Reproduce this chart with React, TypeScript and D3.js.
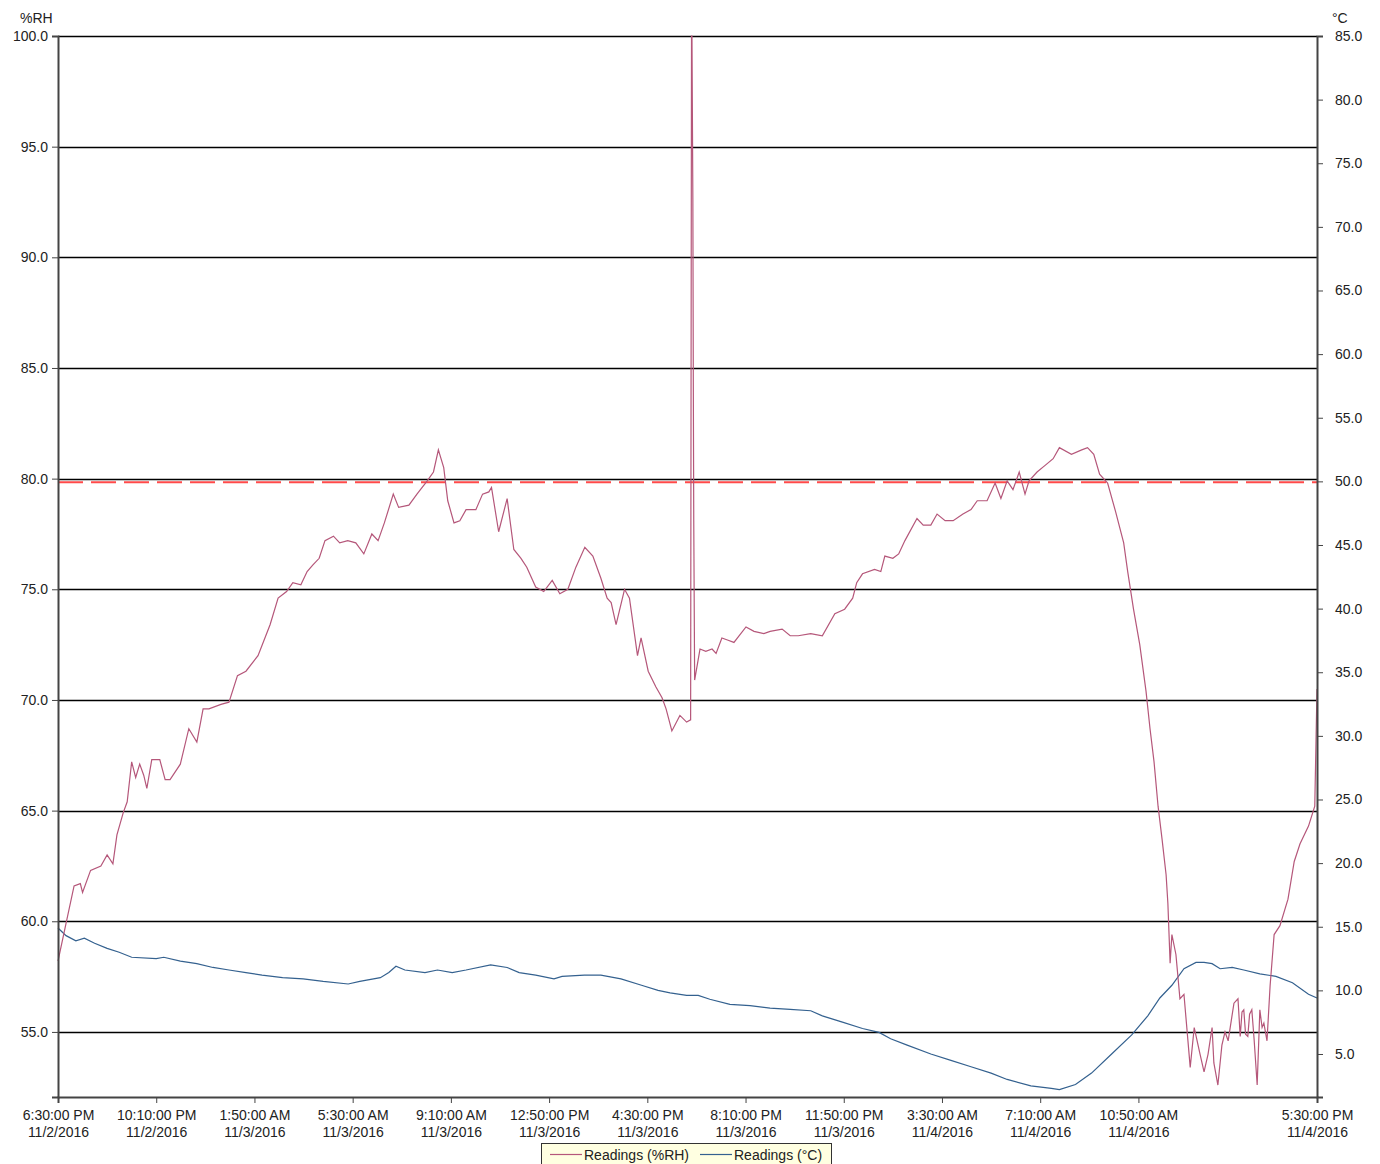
import React, { useEffect, useRef } from 'react';
import * as d3 from 'd3';

// minutes after 6:30 PM 11/2/2016, reading
const rhReadings: [number, number][] = [
  [0, 58.2], [18, 59.9], [36, 61.6], [50, 61.7], [55, 61.3], [73, 62.3], [96, 62.5], [110, 63.0],
  [123, 62.6], [132, 63.9], [146, 64.9], [155, 65.4], [165, 67.2], [174, 66.5], [183, 67.1], [192, 66.6],
  [199, 66.0], [210, 67.3], [228, 67.3], [240, 66.4], [251, 66.4], [274, 67.1], [293, 68.7], [311, 68.1],
  [325, 69.6], [338, 69.6], [365, 69.8], [383, 69.9], [402, 71.1], [421, 71.3], [448, 72.0], [475, 73.4],
  [493, 74.6], [512, 74.9], [526, 75.3], [544, 75.2], [558, 75.8], [571, 76.1], [585, 76.4], [598, 77.2],
  [617, 77.4], [631, 77.1], [649, 77.2], [667, 77.1], [685, 76.6], [703, 77.5], [717, 77.2], [731, 78.0],
  [751, 79.3], [763, 78.7], [786, 78.8], [804, 79.3], [827, 79.9], [841, 80.3], [852, 81.3], [864, 80.5],
  [873, 79.0], [887, 78.0], [900, 78.1], [914, 78.6], [936, 78.6], [951, 79.3], [965, 79.4], [971, 79.6],
  [987, 77.6], [1006, 79.1], [1021, 76.8], [1037, 76.4], [1050, 76.0], [1070, 75.1], [1088, 74.9], [1107, 75.4],
  [1124, 74.8], [1142, 75.0], [1160, 76.0], [1180, 76.9], [1198, 76.5], [1216, 75.5], [1230, 74.6], [1239, 74.4],
  [1250, 73.4], [1269, 75.0], [1280, 74.6], [1298, 72.0], [1306, 72.8], [1322, 71.3], [1339, 70.6], [1353, 70.1],
  [1362, 69.6], [1375, 68.6], [1393, 69.3], [1408, 69.0], [1417, 69.1], [1419, 100.0], [1420, 100.0], [1422, 92.6],
  [1423, 84.5], [1424, 78.1], [1426, 70.9], [1438, 72.3], [1451, 72.2], [1465, 72.3], [1474, 72.1], [1487, 72.8],
  [1501, 72.7], [1514, 72.6], [1541, 73.3], [1559, 73.1], [1581, 73.0], [1595, 73.1], [1622, 73.2], [1640, 72.9],
  [1658, 72.9], [1686, 73.0], [1712, 72.9], [1740, 73.9], [1762, 74.1], [1780, 74.6], [1789, 75.3], [1802, 75.7],
  [1829, 75.9], [1843, 75.8], [1852, 76.5], [1870, 76.4], [1883, 76.6], [1897, 77.2], [1924, 78.2], [1938, 77.9],
  [1955, 77.9], [1969, 78.4], [1987, 78.1], [2005, 78.1], [2027, 78.4], [2045, 78.6], [2059, 79.0], [2081, 79.0],
  [2099, 79.8], [2112, 79.1], [2126, 79.9], [2139, 79.5], [2153, 80.3], [2166, 79.3], [2175, 79.9], [2193, 80.3],
  [2211, 80.6], [2229, 80.9], [2243, 81.4], [2270, 81.1], [2293, 81.3], [2306, 81.4], [2320, 81.1], [2333, 80.2],
  [2351, 79.8], [2369, 78.5], [2387, 77.1], [2396, 75.8], [2409, 74.1], [2423, 72.5], [2437, 70.4], [2446, 68.7],
  [2455, 67.2], [2464, 65.2], [2473, 63.7], [2482, 62.1], [2486, 60.8], [2491, 58.1], [2495, 59.4], [2504, 58.5],
  [2513, 56.5], [2522, 56.7], [2536, 53.4], [2545, 55.2], [2558, 54.0], [2567, 53.2], [2576, 54.0], [2585, 55.2],
  [2589, 53.6], [2598, 52.6], [2607, 54.4], [2614, 55.0], [2621, 54.6], [2634, 56.3], [2643, 56.5], [2648, 54.8],
  [2652, 55.9], [2656, 56.0], [2660, 54.9], [2665, 54.8], [2669, 55.8], [2674, 56.0], [2679, 54.7], [2686, 52.6],
  [2692, 56.0], [2697, 55.2], [2701, 55.4], [2708, 54.6], [2715, 57.1], [2724, 59.4], [2737, 59.8],
  [2755, 61.0], [2769, 62.7], [2782, 63.5], [2801, 64.3], [2815, 65.2], [2820, 70.5],
];

const tempReadings: [number, number][] = [
  [0, 14.9], [18, 14.3], [40, 13.9], [59, 14.1], [82, 13.7], [110, 13.3], [137, 13.0], [165, 12.6],
  [220, 12.5], [237, 12.6], [274, 12.3], [311, 12.1], [347, 11.8], [383, 11.6], [421, 11.4], [457, 11.2],
  [503, 11.0], [549, 10.9], [594, 10.7], [650, 10.5], [676, 10.7], [722, 11.0], [741, 11.4], [757, 11.9],
  [777, 11.6], [822, 11.4], [850, 11.6], [883, 11.4], [914, 11.6], [969, 12.0], [1006, 11.8], [1033, 11.4],
  [1070, 11.2], [1111, 10.9], [1129, 11.1], [1179, 11.2], [1216, 11.2], [1261, 10.9], [1307, 10.4], [1344, 10.0],
  [1371, 9.8], [1408, 9.6], [1434, 9.6], [1460, 9.3], [1505, 8.9], [1550, 8.8], [1595, 8.6], [1640, 8.5],
  [1686, 8.4], [1712, 8.0], [1757, 7.5], [1802, 7.0], [1839, 6.7], [1865, 6.2], [1902, 5.7], [1955, 5.0],
  [2000, 4.5], [2045, 4.0], [2090, 3.5], [2126, 3.0], [2179, 2.5], [2225, 2.3], [2243, 2.2], [2279, 2.6],
  [2315, 3.5], [2360, 5.0], [2405, 6.5], [2441, 8.0], [2468, 9.4], [2495, 10.4], [2522, 11.7], [2549, 12.2],
  [2567, 12.2], [2585, 12.1], [2603, 11.7], [2630, 11.8], [2656, 11.6], [2692, 11.3], [2728, 11.1], [2765, 10.6],
  [2801, 9.7], [2820, 9.4],
];

const rhTicks = [55, 60, 65, 70, 75, 80, 85, 90, 95, 100];
const tempTicks = [5, 10, 15, 20, 25, 30, 35, 40, 45, 50, 55, 60, 65, 70, 75, 80, 85];
const timeTickMinutes = [0, 220, 440, 660, 880, 1100, 1320, 1540, 1760, 1980, 2200, 2420, 2820];
const alarmLevel = 79.84;
const legendItems = ['Readings (%RH)', 'Readings (°C)'];

const startTime = new Date(2016, 10, 2, 18, 30);
const fmtTime = d3.timeFormat('%-I:%M:%S %p');
const fmtDate = d3.timeFormat('%-m/%-d/%Y');

const App = () => {
  const ref = useRef<SVGSVGElement>(null);

  useEffect(() => {
    const margin = { top: 36, left: 58, right: 63, bottom: 67 };
    const width = 1380, height = 1164;
    const plotW = width - margin.left - margin.right;
    const plotH = height - margin.top - margin.bottom;
    const font = '"Liberation Sans", Arial, sans-serif';
    const rhColor = '#b5577a';
    const tColor = '#34618f';

    const svg = d3.select(ref.current);
    svg.selectAll('*').remove();

    const x = d3.scaleTime()
      .domain([startTime, d3.timeMinute.offset(startTime, 2820)])
      .range([0, plotW]);
    const y = d3.scaleLinear().domain([52.06, 100]).range([plotH, 0]);
    const yT = d3.scaleLinear().domain([1.62, 85]).range([plotH, 0]);
    const toDate = (m: number) => d3.timeMinute.offset(startTime, m);

    const g = svg.append('g').attr('transform', `translate(${margin.left},${margin.top})`);

    // gridlines
    g.append('g')
      .selectAll('line')
      .data(rhTicks)
      .enter()
      .append('line')
      .attr('x1', 0)
      .attr('x2', plotW)
      .attr('y1', d => Math.round(y(d)) + 0.5)
      .attr('y2', d => Math.round(y(d)) + 0.5)
      .attr('stroke', '#000')
      .attr('stroke-width', 1.3);

    // alarm
    g.append('line')
      .attr('x1', 0)
      .attr('x2', plotW)
      .attr('y1', y(alarmLevel))
      .attr('y2', y(alarmLevel))
      .attr('stroke', '#ff4a4a')
      .attr('stroke-width', 2)
      .attr('stroke-dasharray', '25,8');

    // series
    const lineRH = d3.line<[number, number]>()
      .x(d => x(toDate(d[0])))
      .y(d => y(d[1]));
    const lineT = d3.line<[number, number]>()
      .x(d => x(toDate(d[0])))
      .y(d => yT(d[1]));

    g.append('path')
      .datum(tempReadings)
      .attr('d', lineT)
      .attr('fill', 'none')
      .attr('stroke', tColor)
      .attr('stroke-width', 1.2);

    g.append('path')
      .datum(rhReadings)
      .attr('d', lineRH)
      .attr('fill', 'none')
      .attr('stroke', rhColor)
      .attr('stroke-width', 1.2);

    // axes
    const leftAxis = g.append('g')
      .call(d3.axisLeft(y).tickValues(rhTicks).tickSize(6).tickFormat(d => (d as number).toFixed(1)));
    const rightAxis = g.append('g')
      .attr('transform', `translate(${plotW},0)`)
      .call(d3.axisRight(yT).tickValues(tempTicks).tickSize(6).tickFormat(d => (d as number).toFixed(1)));
    const bottomAxis = g.append('g')
      .attr('transform', `translate(0,${plotH})`)
      .call(d3.axisBottom(x).tickValues(timeTickMinutes.map(toDate)).tickSize(6).tickFormat(() => ''));

    [leftAxis, rightAxis, bottomAxis].forEach(a => {
      a.select('.domain').attr('stroke', '#444').attr('stroke-width', 2);
      a.selectAll('.tick line').attr('stroke', '#444');
      a.selectAll('text')
        .attr('font-family', font)
        .attr('font-size', 14)
        .attr('fill', '#222');
    });
    leftAxis.selectAll('.tick text').attr('x', -10);
    rightAxis.selectAll('.tick text').attr('x', 18);

    bottomAxis.selectAll('.tick').each(function (d) {
      const t = d3.select(this).select('text')
        .attr('y', 13)
        .attr('text-anchor', 'middle');
      t.append('tspan').attr('x', 0).attr('dy', '0.71em').text(fmtTime(d as Date));
      t.append('tspan').attr('x', 0).attr('dy', 17).text(fmtDate(d as Date));
    });

    // unit labels
    svg.append('text')
      .attr('x', 20).attr('y', 23)
      .attr('font-family', font).attr('font-size', 14).attr('fill', '#222')
      .text('%RH');
    svg.append('text')
      .attr('x', 1332).attr('y', 23)
      .attr('font-family', font).attr('font-size', 14).attr('fill', '#222')
      .text('°C');

    // legend
    const legend = svg.append('g').attr('transform', 'translate(541,1143)');
    legend.append('rect')
      .attr('x', 0.5).attr('y', 0.5)
      .attr('width', 290).attr('height', 30)
      .attr('fill', '#ffffe1')
      .attr('stroke', '#333');
    const items = legend.selectAll('g.item')
      .data(legendItems)
      .enter()
      .append('g')
      .attr('class', 'item')
      .attr('transform', (d, i) => `translate(${i === 0 ? 9 : 159},0)`);
    items.append('line')
      .attr('x1', 0).attr('x2', 32)
      .attr('y1', 11.5).attr('y2', 11.5)
      .attr('stroke', (d, i) => (i === 0 ? rhColor : tColor))
      .attr('stroke-width', 1.2);
    items.append('text')
      .attr('x', 34).attr('y', 16.5)
      .attr('font-family', font).attr('font-size', 14).attr('fill', '#222')
      .text(d => d);
  }, []);

  return (
    <svg
      ref={ref}
      width={1380}
      height={1164}
      style={{ position: 'absolute', left: 0, top: 0, background: '#fff' }}
    />
  );
};

export default App;
